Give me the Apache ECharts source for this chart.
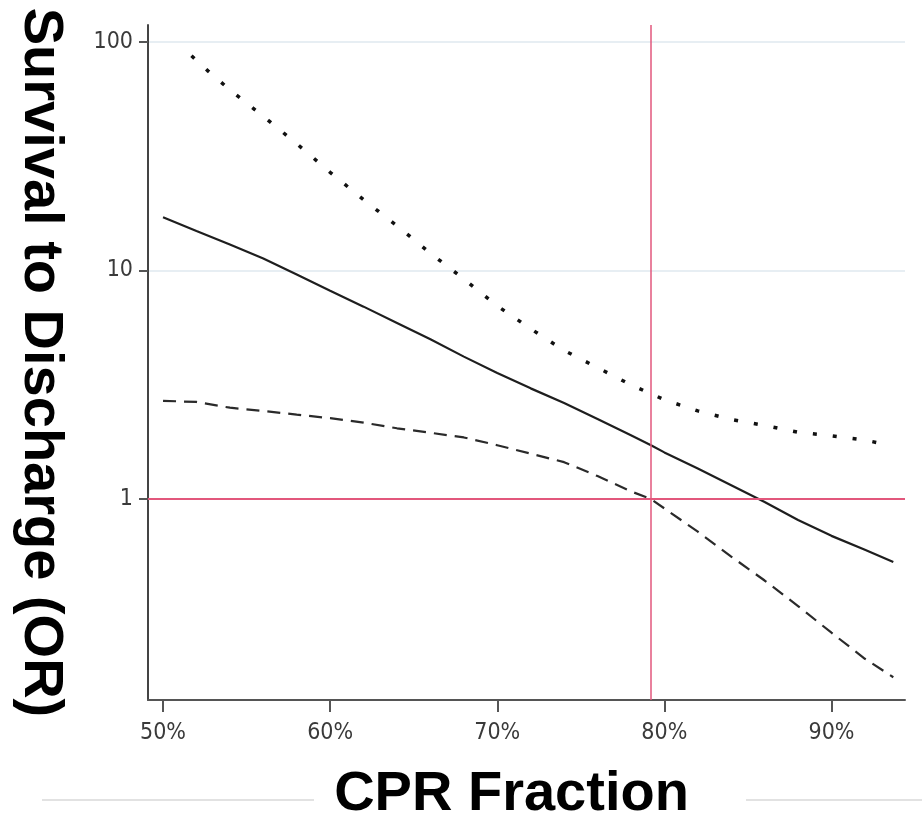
<!DOCTYPE html>
<html>
<head>
<meta charset="utf-8">
<script src="https://cdn.jsdelivr.net/npm/echarts@6/dist/echarts.min.js"></script>
<style>
html,body{margin:0;padding:0;background:#fff;}
#chart{width:922px;height:814px;}
</style>
</head>
<body>
<div id="chart"></div>
<script>
// CPR fraction (%) for the estimate and lower CI curves
const cprFraction = [50, 52, 54, 56, 58, 60, 62, 64, 66, 68, 70, 72, 74, 76, 78, 79.2, 80, 82, 84, 86, 88, 90, 92, 93.7];
// Odds ratio estimate (solid line)
const orEstimate = [17.1, 14.9, 13.0, 11.3, 9.6, 8.15, 6.95, 5.9, 5.0, 4.2, 3.56, 3.05, 2.63, 2.24, 1.9, 1.72, 1.6, 1.36, 1.15, 0.97, 0.81, 0.69, 0.60, 0.53];
// Lower 95% CI (dashed line)
const lowerCI = [2.69, 2.66, 2.51, 2.43, 2.34, 2.26, 2.16, 2.04, 1.95, 1.86, 1.72, 1.58, 1.45, 1.26, 1.08, 1.0, 0.91, 0.72, 0.56, 0.44, 0.34, 0.26, 0.20, 0.166];
// Upper 95% CI (dotted line)
const upperX = [51.7, 52.7, 54, 56, 58, 60, 62, 64, 66, 68, 70, 72, 74, 76, 78, 80, 82, 84, 86, 88, 90, 92, 93.5];
const upperCI = [87.1, 74.6, 61.7, 47.3, 35.9, 26.9, 20.4, 15.7, 11.9, 9.18, 7.0, 5.56, 4.47, 3.76, 3.16, 2.72, 2.43, 2.23, 2.10, 1.96, 1.89, 1.81, 1.72];
// Tick labels
const xTicks = [50, 60, 70, 80, 90];
const yTicks = [1, 10, 100];
// Reference lines
const refOR = 1;
const refCPR = 79.2;

const pairs = (xs, ys) => xs.map((x, i) => [x, ys[i]]);

const chart = echarts.init(document.getElementById('chart'), null, {renderer: 'canvas'});
const tickFont = {fontFamily: '"DejaVu Sans Condensed", "Open Sans", sans-serif', fontSize: 23, color: '#3a3a3a'};
const titleFont = {fontFamily: 'Liberation Sans', fontSize: 56, fontWeight: 'bold', color: '#000'};

chart.setOption({
  backgroundColor: '#fff',
  animation: false,
  grid: {left: 148, top: 25, right: 17, bottom: 114, containLabel: false, outerBoundsMode: 'none'},
  xAxis: {
    type: 'value', min: 49.1, max: 94.4,
    name: 'CPR Fraction', nameLocation: 'middle', nameGap: 67,
    nameTextStyle: Object.assign({}, titleFont, {padding: [0, 30, 0, 0]}),
    axisLine: {show: true, onZero: false, lineStyle: {color: '#555', width: 2}},
    axisTick: {show: true, customValues: xTicks, length: 12, lineStyle: {color: '#555', width: 2}},
    axisLabel: Object.assign({customValues: xTicks, margin: 22, formatter: v => v + '%'}, tickFont),
    splitLine: {show: false}
  },
  yAxis: {
    type: 'log', logBase: 10, min: 0.132, max: 118.7,
    name: 'Survival to Discharge (OR)', nameLocation: 'middle', nameRotate: -90, nameGap: 80,
    nameTextStyle: titleFont,
    axisLine: {show: true, lineStyle: {color: '#444', width: 2}},
    axisTick: {show: true, customValues: yTicks, length: 9, lineStyle: {color: '#555', width: 2}},
    axisLabel: Object.assign({customValues: yTicks, margin: 15, formatter: v => String(+(+v).toPrecision(3))}, tickFont),
    splitLine: {show: true, lineStyle: {color: '#dfe9ef', width: 1.5}}
  },
  graphic: [
    {type: 'line', shape: {x1: 42, y1: 800, x2: 314, y2: 800}, style: {stroke: '#e2e2e2', lineWidth: 2}, z: -1},
    {type: 'line', shape: {x1: 746, y1: 800, x2: 922, y2: 800}, style: {stroke: '#e2e2e2', lineWidth: 2}, z: -1}
  ],
  series: [
    {
      name: 'Reference', type: 'line', data: [], silent: true,
      markLine: {
        silent: true, symbol: 'none', label: {show: false},
        lineStyle: {color: '#e2577c', type: 'solid'},
        data: [
          {yAxis: refOR, lineStyle: {width: 2}},
          {xAxis: refCPR, lineStyle: {width: 1.5}}
        ]
      }
    },
    {
      name: 'OR', type: 'line', data: pairs(cprFraction, orEstimate), showSymbol: false,
      lineStyle: {color: '#1e1e1e', width: 2.2}, z: 3
    },
    {
      name: 'Lower CI', type: 'line', data: pairs(cprFraction, lowerCI), showSymbol: false,
      lineStyle: {color: '#2a2a2a', width: 2.2, type: [13, 8]}, z: 3
    },
    {
      name: 'Upper CI', type: 'line', data: pairs(upperX, upperCI), showSymbol: false,
      lineStyle: {color: '#111', width: 3.5, type: [4, 16], cap: 'butt'}, z: 3
    }
  ]
});
</script>
</body>
</html>
